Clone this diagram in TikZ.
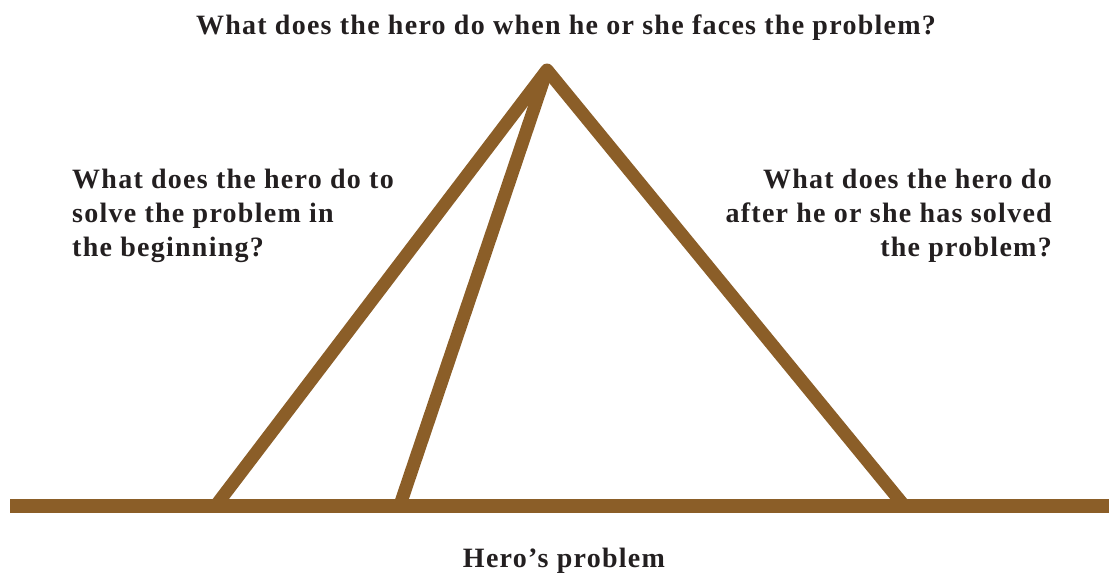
\documentclass[tikz,border=0pt]{standalone}
\usepackage{fontspec}
\setmainfont{Liberation Serif}[LetterSpace=4.5]
\usepackage{tikz}

\definecolor{pyramidbrown}{HTML}{8B5E28}
\definecolor{textdark}{HTML}{231F20}

\begin{document}
\begin{tikzpicture}[x=1pt, y=-1pt, every node/.style={text=textdark, font=\fontsize{28}{34}\selectfont\bfseries, inner sep=0pt}]
		\tikzstyle{leg}=[draw=pyramidbrown, line width=13pt, line join=round]
		\tikzstyle{ground}=[draw=pyramidbrown, line width=14pt]

		\useasboundingbox (0,0) rectangle (1109,574);

    % Corners of the pyramid
		\coordinate (top) at (547,70);
		\coordinate (lb) at (214,508);
		\coordinate (ib) at (399,508);
		\coordinate (rb) at (906,508);
		\coordinate (g0) at (10,506);
		\coordinate (g1) at (1109,506);

    % Pyramid
		\draw[leg] (lb) -- (top) -- (rb);
		\draw[leg] (ib) -- (top);
		\draw[ground] (g0) -- (g1);

    % Questions
		\node(qtop) at (566,28){What does the hero do when he or she faces the problem?};
		\node[anchor=west, align=left](qleft) at (72,216){What does the hero do to\\solve the problem in\\the beginning?};
		\node[anchor=east, align=right](qright) at (1052,216){What does the hero do\\after he or she has solved\\the problem?};
		\node(qbase) at (564,561){Hero’s problem};
  \end{tikzpicture}
\end{document}
